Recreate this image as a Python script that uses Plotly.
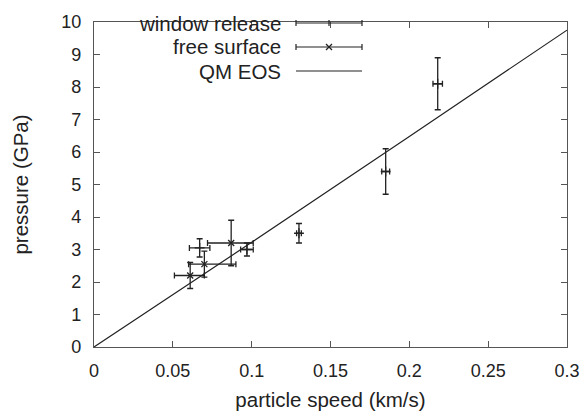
import plotly.graph_objects as go

# Data
wr_x = [0.067, 0.097, 0.130, 0.185, 0.218]
wr_y = [3.05, 3.00, 3.50, 5.40, 8.10]
wr_xerr = [0.0065, 0.004, 0.0015, 0.0025, 0.003]
wr_yerr = [0.28, 0.20, 0.30, 0.70, 0.80]

fs_x = [0.061, 0.070, 0.087]
fs_y = [2.20, 2.55, 3.20]
fs_xerr_minus = [0.010, 0.010, 0.015]
fs_xerr_plus = [0.009, 0.020, 0.014]
fs_yerr = [0.40, 0.40, 0.70]

eos_x = [0.0, 0.1, 0.2, 0.3]
eos_y = [0.0, 3.22, 6.48, 9.75]

x_ticks = [0, 0.05, 0.1, 0.15, 0.2, 0.25, 0.3]
x_tick_labels = ["0", "0.05", "0.1", "0.15", "0.2", "0.25", "0.3"]
y_ticks = list(range(0, 11))

legend_labels = ["window release", "free surface", "QM EOS"]

ink = "#222222"
font = "Liberation Sans, Arial, sans-serif"

fig = go.Figure()

fig.add_trace(go.Scatter(
    x=eos_x, y=eos_y, mode="lines",
    line=dict(color=ink, width=1.2), name=legend_labels[2], showlegend=False))

fig.add_trace(go.Scatter(
    x=wr_x, y=wr_y, mode="markers", name=legend_labels[0], showlegend=False,
    marker=dict(symbol="cross-thin", size=7, line=dict(color=ink, width=1.3), color=ink),
    error_x=dict(type="data", array=wr_xerr, color=ink, thickness=1.3, width=3),
    error_y=dict(type="data", array=wr_yerr, color=ink, thickness=1.3, width=3)))

fig.add_trace(go.Scatter(
    x=fs_x, y=fs_y, mode="markers", name=legend_labels[1], showlegend=False,
    marker=dict(symbol="x-thin", size=6, line=dict(color=ink, width=1.3), color=ink),
    error_x=dict(type="data", symmetric=False, array=fs_xerr_plus, arrayminus=fs_xerr_minus,
                 color=ink, thickness=1.3, width=3),
    error_y=dict(type="data", array=fs_yerr, color=ink, thickness=1.3, width=3)))

# Gnuplot-style legend: text right-aligned, samples to the right
W, H = 586, 418
ml, mr, mt, mb = 94, 19, 22, 71
pw, ph = W - ml - mr, H - mt - mb

def px(xp):
    return (xp - ml) / pw

def py(yp):
    return 1 - (yp - mt) / ph

rows = [23, 47, 71]
shapes = []
annotations = []
for i, lab in enumerate(legend_labels):
    yy = py(rows[i])
    annotations.append(dict(x=px(283), y=yy, xref="paper", yref="paper", text=lab,
                            showarrow=False, xanchor="right", yanchor="middle",
                            font=dict(family=font, size=20.5, color=ink)))
    x0, x1 = px(296), px(362)
    shapes.append(dict(type="line", xref="paper", yref="paper", x0=x0, x1=x1, y0=yy, y1=yy,
                       line=dict(color=ink, width=1.2)))
    if i < 2:
        cap = 3 / ph
        for xc in (x0, x1):
            shapes.append(dict(type="line", xref="paper", yref="paper", x0=xc, x1=xc,
                               y0=yy - cap, y1=yy + cap, line=dict(color=ink, width=1.2)))
        c = px(329)
        dx, dy = 3 / pw, 3 / ph
        if i == 0:
            shapes.append(dict(type="line", xref="paper", yref="paper", x0=c, x1=c,
                               y0=yy - dy, y1=yy + dy, line=dict(color=ink, width=1.2)))
        else:
            shapes.append(dict(type="line", xref="paper", yref="paper", x0=c - dx, x1=c + dx,
                               y0=yy - dy, y1=yy + dy, line=dict(color=ink, width=1.2)))
            shapes.append(dict(type="line", xref="paper", yref="paper", x0=c - dx, x1=c + dx,
                               y0=yy + dy, y1=yy - dy, line=dict(color=ink, width=1.2)))

axis_common = dict(showgrid=False, zeroline=False, showline=True, linecolor="#555555",
                   linewidth=1.2, mirror="ticks", ticks="inside", ticklen=6,
                   tickcolor="#555555", tickwidth=1, automargin=False,
                   tickfont=dict(family=font, size=18, color=ink))

fig.update_layout(
    width=W, height=H,
    margin=dict(l=ml, r=mr, t=mt, b=mb),
    paper_bgcolor="white", plot_bgcolor="white",
    showlegend=False,
    shapes=shapes, annotations=annotations,
    xaxis=dict(range=[0, 0.3], tickvals=x_ticks, ticktext=x_tick_labels,
               ticklabelstandoff=7,
               title=dict(text="particle speed (km/s)", font=dict(family=font, size=20.5, color=ink),
                          standoff=12),
               **axis_common),
    yaxis=dict(range=[0, 10], tickvals=y_ticks, ticklabelstandoff=8,
               title=dict(text="pressure (GPa)", font=dict(family=font, size=20.5, color=ink),
                          standoff=27),
               **axis_common),
)

fig.write_html("out.html")
